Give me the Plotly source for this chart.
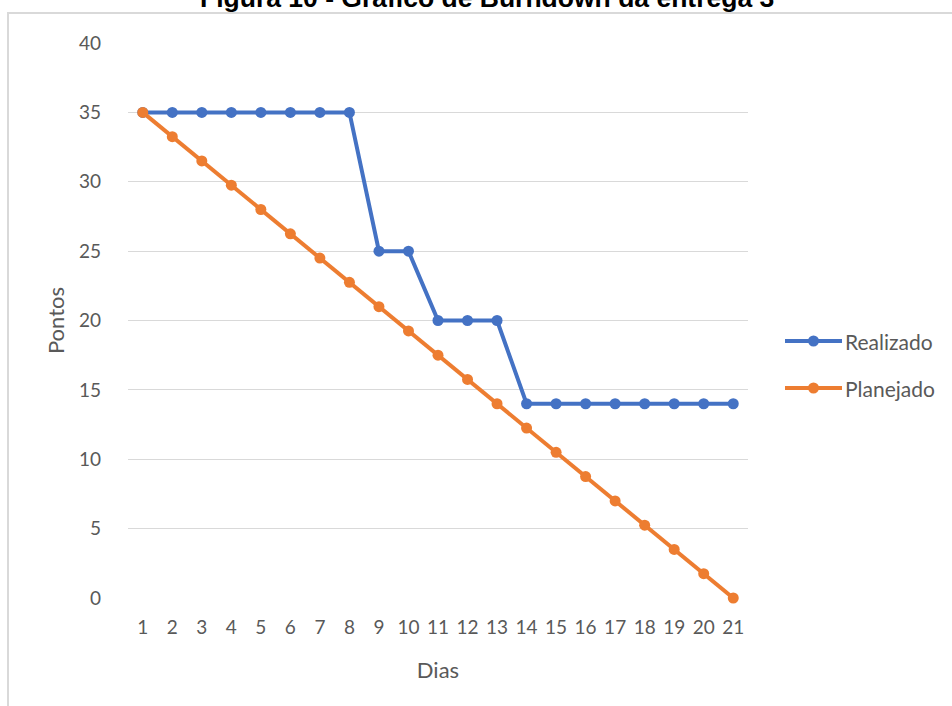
import plotly.graph_objects as go

# Burndown data for delivery 3
dias = [str(d) for d in range(1, 22)]
realizado = [35, 35, 35, 35, 35, 35, 35, 35, 25, 25, 20, 20, 20,
             14, 14, 14, 14, 14, 14, 14, 14]
planejado = [35, 33.25, 31.5, 29.75, 28, 26.25, 24.5, 22.75, 21, 19.25,
             17.5, 15.75, 14, 12.25, 10.5, 8.75, 7, 5.25, 3.5, 1.75, 0]
y_ticks = [0, 5, 10, 15, 20, 25, 30, 35, 40]
series = [("Realizado", realizado, "#4472C4"),
          ("Planejado", planejado, "#ED7D31")]

W, H = 952, 706
L, R, T, B = 128, 204, 43, 108
pw, ph = W - L - R, H - T - B


def px_x(x):
    return (x - L) / pw


def px_y(y):
    return (H - B - y) / ph


font_fam = "Lato, 'Open Sans', sans-serif"
gray = "#595959"

fig = go.Figure()
for name, vals, color in series:
    fig.add_trace(go.Scatter(
        x=list(range(1, 22)), y=vals, name=name,
        mode="lines+markers",
        line=dict(color=color, width=4),
        marker=dict(color=color, size=11),
        cliponaxis=False, showlegend=False,
    ))

shapes = [dict(
    type="rect", xref="paper", yref="paper",
    x0=px_x(8), x1=px_x(1100), y0=px_y(900), y1=px_y(13),
    line=dict(color="#d9d9d9", width=2), fillcolor="rgba(0,0,0,0)",
    layer="below",
)]
annotations = [dict(
    text="<b>Figura 10 - Gráfico de Burndown da entrega 3</b>",
    xref="paper", yref="paper", x=px_x(487), y=px_y(15),
    xanchor="center", yanchor="bottom", showarrow=False,
    font=dict(family="Liberation Sans, Arial, sans-serif", size=26.5,
              color="black"),
)]

# legend drawn as a line with a dot and a label for each series
leg_x0, leg_x1, r = 785, 842, 5.5
for i, (name, vals, color) in enumerate(series):
    yc = 341 + 47 * i
    shapes.append(dict(
        type="line", xref="paper", yref="paper",
        x0=px_x(leg_x0), x1=px_x(leg_x1), y0=px_y(yc), y1=px_y(yc),
        line=dict(color=color, width=4),
    ))
    xm = (leg_x0 + leg_x1) / 2
    shapes.append(dict(
        type="circle", xref="paper", yref="paper",
        x0=px_x(xm - r), x1=px_x(xm + r), y0=px_y(yc + r), y1=px_y(yc - r),
        line=dict(color=color, width=0), fillcolor=color,
    ))
    annotations.append(dict(
        text=name, xref="paper", yref="paper",
        x=px_x(leg_x1 + 1), y=px_y(yc), xanchor="left", yanchor="middle",
        showarrow=False,
        font=dict(family=font_fam, size=21, color=gray),
    ))

fig.update_layout(
    width=W, height=H,
    margin=dict(l=L, r=R, t=T, b=B),
    paper_bgcolor="white", plot_bgcolor="white",
    showlegend=False,
    xaxis=dict(
        range=[0.5, 21.5], tickmode="array",
        tickvals=list(range(1, 22)), ticktext=dias,
        showgrid=False, zeroline=False, showline=False,
        ticks="", ticklabelstandoff=16,
        tickfont=dict(family=font_fam, size=19, color=gray),
        title=dict(text="Dias", standoff=25,
                   font=dict(family=font_fam, size=22, color=gray)),
    ),
    yaxis=dict(
        range=[0, 40], tickmode="array", tickvals=y_ticks,
        showgrid=True, gridcolor="#d9d9d9", gridwidth=1,
        zeroline=False, showline=False, ticks="",
        ticklabelstandoff=26,
        tickfont=dict(family=font_fam, size=19, color=gray),
        title=dict(text="Pontos", standoff=8,
                   font=dict(family=font_fam, size=22, color=gray)),
    ),
    shapes=shapes,
    annotations=annotations,
)

fig.write_html("out.html")
